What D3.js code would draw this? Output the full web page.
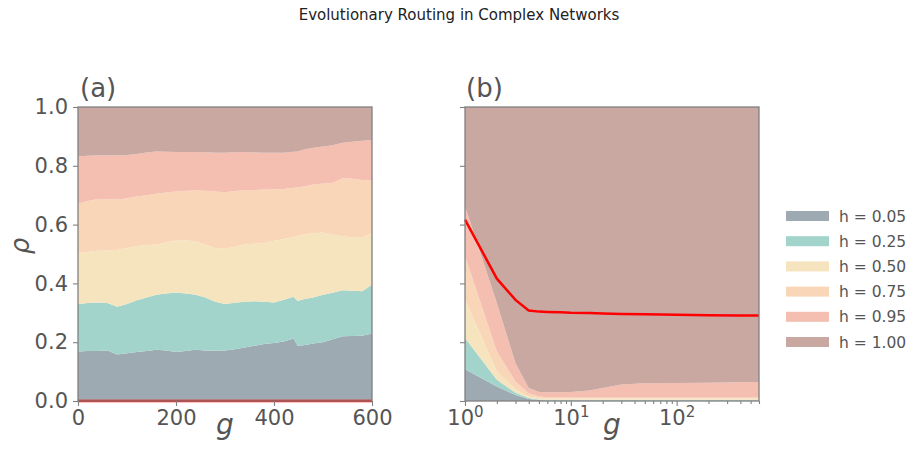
<!DOCTYPE html>
<html>
<head>
<meta charset="utf-8">
<script src="https://cdn.jsdelivr.net/npm/d3@7"></script>
<style>
  body { margin: 0; background: #fff; }
  svg { display: block; font-family: "DejaVu Sans", sans-serif; }
</style>
</head>
<body>
<svg id="chart" width="918" height="470"></svg>
<script>
// legend labels and fill colours, one per h value
var hKeys = ['h05', 'h25', 'h50', 'h75', 'h95', 'h100'];
var hLabels = ['h = 0.05', 'h = 0.25', 'h = 0.50', 'h = 0.75', 'h = 0.95', 'h = 1.00'];
var cores = ['#9daab1', '#a2d4cc', '#f6e4be', '#f9d6b8', '#f4beb1', '#c9a8a2'];

// panel (a): fraction of population per h, over generations g
var genA = [0, 20, 40, 60, 80, 100, 120, 140, 160, 180, 200, 220, 240, 260, 280, 300,
    320, 340, 360, 380, 400, 420, 440, 448, 460, 480, 500, 520, 540, 560, 580, 600];
var a05 = [.168, .170, .170, .172, .158, .162, .167, .170, .174, .172, .167, .170, .174, .172, .171, .172,
    .176, .182, .188, .194, .197, .202, .213, .188, .190, .196, .200, .210, .220, .221, .222, .230];
var a25 = [.162, .163, .165, .161, .163, .168, .176, .182, .187, .194, .202, .196, .187, .180, .167, .158,
    .158, .156, .151, .144, .138, .142, .142, .152, .156, .156, .161, .158, .157, .154, .151, .165];
var a50 = [.173, .174, .176, .179, .193, .190, .184, .178, .171, .174, .177, .180, .182, .180, .182, .188,
    .191, .194, .196, .199, .210, .207, .203, .221, .220, .219, .212, .198, .183, .182, .181, .177];
var a75 = [.168, .173, .176, .174, .171, .170, .169, .170, .173, .169, .167, .169, .173, .183, .193, .192,
    .189, .185, .183, .182, .175, .170, .167, .165, .164, .165, .167, .176, .198, .199, .198, .178];
var a95 = [.161, .154, .148, .150, .150, .147, .144, .145, .144, .139, .134, .132, .131, .131, .131, .134,
    .132, .130, .127, .125, .124, .123, .123, .123, .125, .125, .126, .128, .120, .126, .133, .137];
var a100 = [.168, .166, .165, .164, .165, .163, .160, .155, .151, .152, .153, .153, .153, .154, .156, .156,
    .154, .153, .155, .156, .156, .156, .152, .151, .145, .139, .134, .130, .122, .118, .115, .113];
var rhoA = [0, 0, 0, 0, 0, 0, 0, 0, 0, 0, 0, 0, 0, 0, 0, 0,
    0, 0, 0, 0, 0, 0, 0, 0, 0, 0, 0, 0, 0, 0, 0, 0];

// panel (b): same fractions on a log generation axis
var genB = [1, 2, 3, 4, 5, 6, 8, 10, 15, 20, 30, 50, 100, 200, 400, 600];
var b05 = [.108, .049, .020, .007, .003, .002, .002, .002, .002, .002, .002, .002, .002, .002, .002, .002];
var b25 = [.106, .023, .008, .003, .002, .002, .002, .002, .002, .002, .002, .002, .002, .002, .002, .002];
var b50 = [.131, .028, .012, .005, .004, .004, .004, .004, .004, .004, .004, .004, .004, .004, .004, .004];
var b75 = [.147, .068, .026, .011, .006, .005, .004, .004, .004, .004, .004, .004, .004, .004, .004, .004];
var b95 = [.170, .165, .062, .018, .016, .017, .018, .019, .024, .032, .044, .048, .049, .050, .052, .053];
var b100 = [.338, .667, .872, .956, .969, .970, .970, .969, .964, .956, .944, .940, .939, .938, .936, .935];
var rhoB = [.617, .416, .344, .308, .304, .303, .302, .300, .299, .298, .296, .295, .293, .292, .291, .291];

var yTicks = [0, 0.2, 0.4, 0.6, 0.8, 1.0];
var xTicksA = [0, 200, 400, 600];
var xTicksB = [1, 10, 100];

var textCor = '#555555';
var spineCor = '#808080';

var svg = d3.select('#chart');

svg.append('text')
    .attr('x', 459).attr('y', 20)
    .attr('text-anchor', 'middle')
    .style('font-size', '15px')
    .style('fill', '#222')
    .text('Evolutionary Routing in Complex Networks');

var y = d3.scaleLinear().domain([0, 1]).range([401, 107]);
var xA = d3.scaleLinear().domain([0, 600]).range([78, 372]);
var xB = d3.scaleLog().domain([1, 600]).range([465, 759]);

function montaLinhas(gens, series) {
    return gens.map(function (g, i) {
        var row = { g: g };
        hKeys.forEach(function (k, j) { row[k] = series[j][i]; });
        return row;
    });
}

function desenhaPainel(x, linhas, rho, gens) {
    var pilha = d3.stack().keys(hKeys)(linhas);
    var area = d3.area()
        .x(function (d) { return x(d.data.g); })
        .y0(function (d) { return y(d[0]); })
        .y1(function (d) { return y(d[1]); });

    svg.append('g').selectAll('path')
        .data(pilha)
        .enter()
        .append('path')
        .attr('d', area)
        .style('fill', function (d, i) { return cores[i]; });

    var linha = d3.line()
        .x(function (d, i) { return x(gens[i]); })
        .y(function (d) { return y(d); });

    svg.append('path')
        .datum(rho)
        .attr('d', linha)
        .style('fill', 'none')
        .style('stroke', '#ff0000')
        .style('stroke-width', 2.5);

    // moldura
    var r = x.range();
    svg.append('rect')
        .attr('x', r[0]).attr('y', y(1))
        .attr('width', r[1] - r[0]).attr('height', y(0) - y(1))
        .style('fill', 'none')
        .style('stroke', spineCor)
        .style('stroke-width', 1.3);
}

function estilizaEixo(g) {
    g.select('.domain').remove();
    g.selectAll('line').style('stroke', spineCor).style('stroke-width', 1.1);
    g.selectAll('text').style('fill', textCor).style('font-size', '21px')
        .style('font-family', '"DejaVu Sans", sans-serif');
}

// painel (a)
desenhaPainel(xA, montaLinhas(genA, [a05, a25, a50, a75, a95, a100]), rhoA, genA);

svg.append('g')
    .attr('transform', 'translate(0,401)')
    .call(d3.axisBottom(xA).tickValues(xTicksA).tickSize(5).tickPadding(4).tickFormat(d3.format('d')))
    .call(estilizaEixo);

svg.append('g')
    .attr('transform', 'translate(78,0)')
    .call(d3.axisLeft(y).tickValues(yTicks).tickSize(5).tickPadding(5).tickFormat(d3.format('.1f')))
    .call(estilizaEixo);

// painel (b)
desenhaPainel(xB, montaLinhas(genB, [b05, b25, b50, b75, b95, b100]), rhoB, genB);

var eixoB = svg.append('g')
    .attr('transform', 'translate(0,401)')
    .call(d3.axisBottom(xB).tickValues(xTicksB).tickSize(5).tickPadding(4).tickFormat(function () { return ''; }))
    .call(estilizaEixo);

eixoB.selectAll('.tick text').each(function (d) {
    var t = d3.select(this);
    t.text('10');
    t.append('tspan')
        .attr('dy', '-0.55em')
        .style('font-size', '15px')
        .text(Math.round(Math.log10(d)));
});

// minor ticks do eixo log
var menores = xB.ticks().filter(function (v) { return xTicksB.indexOf(v) < 0; });
svg.append('g')
    .attr('transform', 'translate(0,401)')
    .call(d3.axisBottom(xB).tickValues(menores).tickSize(3).tickFormat(''))
    .call(estilizaEixo);

svg.append('g')
    .attr('transform', 'translate(465,0)')
    .call(d3.axisLeft(y).tickValues(yTicks).tickSize(5).tickFormat(''))
    .call(estilizaEixo);

// rótulos dos painéis e eixos
[['(a)', 80], ['(b)', 466]].forEach(function (p) {
    svg.append('text')
        .attr('x', p[1]).attr('y', 97)
        .style('font-size', '26px')
        .style('fill', textCor)
        .text(p[0]);
});

[225, 612].forEach(function (cx) {
    svg.append('text')
        .attr('x', cx).attr('y', 434)
        .attr('text-anchor', 'middle')
        .style('font-size', '28px')
        .style('font-style', 'italic')
        .style('fill', textCor)
        .text('g');
});

svg.append('text')
    .attr('transform', 'translate(29,246) rotate(-90)')
    .attr('text-anchor', 'middle')
    .style('font-size', '26px')
    .style('font-style', 'italic')
    .style('fill', textCor)
    .text('ρ');

// legenda
var legenda = svg.append('g').selectAll('g')
    .data(hLabels)
    .enter()
    .append('g')
    .attr('transform', function (d, i) { return 'translate(786,' + (216 + i * 25.2) + ')'; });

legenda.append('rect')
    .attr('y', -5)
    .attr('width', 43)
    .attr('height', 10)
    .style('fill', function (d, i) { return cores[i]; });

legenda.append('text')
    .attr('x', 53)
    .attr('dy', '0.36em')
    .style('font-size', '15.5px')
    .style('fill', textCor)
    .text(function (d) { return d; });
</script>
</body>
</html>
